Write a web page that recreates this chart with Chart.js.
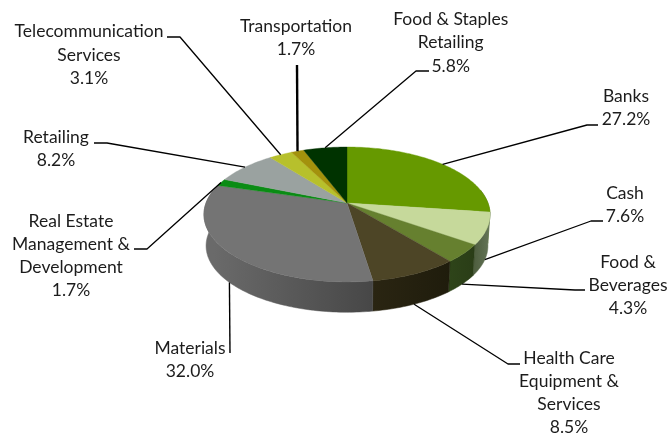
<!DOCTYPE html>
<html>
<head>
<meta charset="utf-8">
<style>html,body{margin:0;padding:0;background:#fff}canvas{display:block}</style>
<script src="https://cdn.jsdelivr.net/npm/chart.js@4"></script>
</head>
<body>
<canvas id="c" width="667" height="433"></canvas>
<script>
const categories = ['Banks','Cash','Food & Beverages','Health Care Equipment & Services','Materials','Real Estate Management & Development','Retailing','Telecommunication Services','Transportation','Food & Staples Retailing'];
const shares = [27.2,7.6,4.3,8.5,32.0,1.7,8.2,3.1,1.7,5.8];
const labelLines = [['Banks'],['Cash'],['Food &','Beverages'],['Health Care','Equipment &','Services'],['Materials'],['Real Estate','Management &','Development'],['Retailing'],['Telecommunication','Services'],['Transportation'],['Food & Staples','Retailing']];
const topColors = ['#669900','#c6d99b','#66802f','#4d4526','#747474','#0a8c14','#9aa2a0','#b7c02c','#a3920c','#003300'];
const wallFrom = ['#6a8a30','#4f5f40','#2e4419','#2a2512','#6a6a6a','#0a6010','#777','#889','#776','#012'];
const wallTo = ['#5d6f4c','#657558','#2a3d17','#1f1c0c','#474747','#0a6010','#777','#889','#776','#012'];

// label layout: text centre x, first line centre y, leader elbow points
const labelLayout = [
 {x:626,y:96,leader:[[598,125],[587,125]],wall:false},
 {x:625,y:193,leader:[[603,221],[591,221]],wall:true},
 {x:628,y:262,leader:[[585,290],[575,290]],wall:true},
 {x:569,y:358,leader:[[520,364],[508,364]],wall:true},
 {x:190,y:348,leader:[[230,353]],wall:true,w:1.4},
 {x:71,y:221,leader:[[134,249],[147,249]],wall:false},
 {x:56,y:137,leader:[[94,143],[107,143]],wall:false},
 {x:89,y:31.7,leader:[[167,37],[180,37]],wall:false},
 {x:296,y:26,leader:[[297,65]],wall:false,w:2.4},
 {x:450.7,y:19.5,leader:[[429,71],[416,71]],wall:false}
];

const PERSP = -0.17, TILT = 0.4645, BOTTOM_SCALE = 0.985, BOTTOM_DROP = 31.5;

function topPt(a,t){const u=Math.cos(t),v=Math.sin(t),d=1+PERSP*v,R=a.outerRadius;
  return [a.x+R*u/d, a.y+R*TILT*v/d];}
function botPt(a,t){const u=Math.cos(t),v=Math.sin(t),d=1+PERSP*v,R=a.outerRadius*BOTTOM_SCALE;
  return [a.x+R*u/d, a.y+BOTTOM_DROP+R*TILT*v/d];}
function trace(ctx,fn,a,s,e,first){const n=Math.max(2,Math.ceil(Math.abs(e-s)/0.02));
  for(let i=0;i<=n;i++){const p=fn(a,s+(e-s)*i/n); if(first&&i===0)ctx.moveTo(p[0],p[1]); else ctx.lineTo(p[0],p[1]);}}

const pie3d = {
  id:'pie3d',
  beforeDatasetDraw(chart,args){
    const ctx=chart.ctx, arcs=args.meta.data;
    ctx.save();
    ctx.filter='blur(0.5px)';
    const lo=-0.2, hi=Math.PI+0.2;
    arcs.forEach((a,i)=>{
      for(const off of [0,2*Math.PI]){
        const s=Math.max(a.startAngle-off,lo), e=Math.min(a.endAngle-off,hi);
        if(e<=s) continue;
        const p0=topPt(a,s), p1=topPt(a,e);
        const g=ctx.createLinearGradient(Math.min(p0[0],p1[0]),0,Math.max(p0[0],p1[0]),0);
        const left=p0[0]<p1[0];
        g.addColorStop(0,left?wallTo[i]:wallFrom[i]);
        g.addColorStop(1,left?wallFrom[i]:wallTo[i]);
        ctx.fillStyle=g; ctx.strokeStyle=g; ctx.lineWidth=.5;
        ctx.beginPath();
        trace(ctx,topPt,a,s,e,true);
        trace(ctx,botPt,a,e,s,false);
        ctx.closePath(); ctx.fill(); ctx.stroke();
      }
    });
    arcs.forEach((a,i)=>{
      ctx.fillStyle=topColors[i]; ctx.strokeStyle=topColors[i]; ctx.lineWidth=.4;
      ctx.beginPath(); ctx.moveTo(a.x,a.y);
      trace(ctx,topPt,a,a.startAngle,a.endAngle,false);
      ctx.closePath(); ctx.fill(); ctx.stroke();
    });
    ctx.restore();
    ctx.save();
    arcs.forEach((a,i)=>{
      const L=labelLayout[i], mid=(a.startAngle+a.endAngle)/2;
      const anchor=(L.wall?botPt:topPt)(a,mid);
      ctx.strokeStyle='#000'; ctx.lineWidth=L.w||1.3; ctx.lineJoin='round';
      ctx.beginPath();
      L.leader.forEach((p,k)=>k?ctx.lineTo(p[0],p[1]):ctx.moveTo(p[0],p[1]));
      ctx.lineTo(anchor[0],anchor[1]);
      ctx.stroke();
      ctx.fillStyle='#1c1c1c'; ctx.font='17.5px Lato, "Open Sans", sans-serif';
      ctx.textAlign='center'; ctx.textBaseline='middle';
      const lines=labelLines[i].concat([shares[i].toFixed(1)+'%']);
      lines.forEach((t,k)=>ctx.fillText(t,L.x,L.y+k*23.2));
    });
    ctx.restore();
    return false;
  }
};

new Chart(document.getElementById('c'),{
  type:'pie',
  data:{labels:categories,datasets:[{data:shares,backgroundColor:topColors,borderWidth:0}]},
  options:{
    responsive:false,animation:false,radius:141,
    layout:{padding:{left:27,bottom:27}},
    plugins:{legend:{display:false},tooltip:{enabled:false},title:{display:false}},
    events:[]
  },
  plugins:[pie3d]
});
</script>
</body>
</html>
